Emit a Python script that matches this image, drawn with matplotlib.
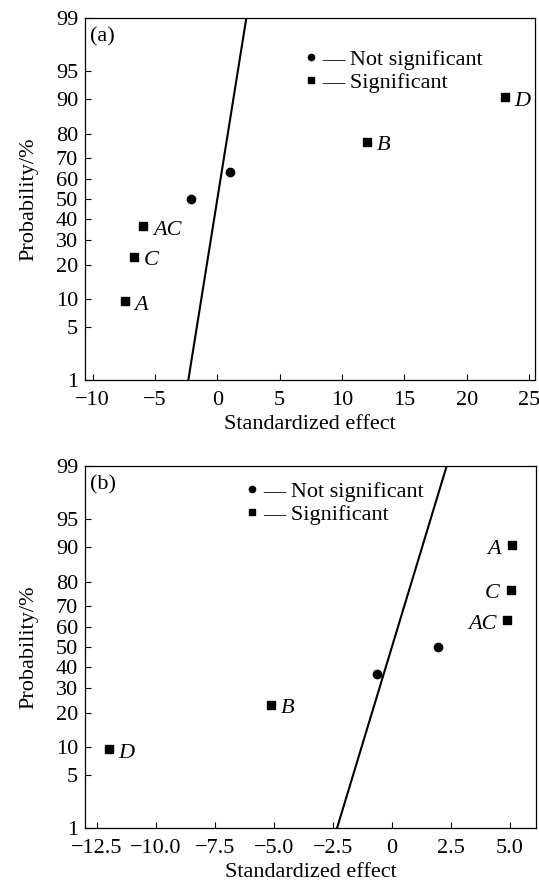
import numpy as np
import matplotlib
matplotlib.use('Agg')
import matplotlib.pyplot as plt
from matplotlib.lines import Line2D
from statistics import NormalDist

plt.rcParams['font.family'] = ['Liberation Serif', 'DejaVu Serif']

# Panel (a) effects
a_sig_x = [-7.43, -6.71, -5.96, 12.02, 23.07]
a_sig_p = [9.5, 23.0, 36.5, 77.0, 90.5]
a_sig_names = ['A', 'C', 'AC', 'B', 'D']
a_ns_x = [-2.13, 1.0]
a_ns_p = [50.0, 63.5]

# Panel (b) effects
b_sig_x = [-12.01, -5.14, 4.90, 5.05, 5.10]
b_sig_p = [9.5, 23.0, 63.5, 77.0, 90.5]
b_sig_names = ['D', 'B', 'AC', 'C', 'A']
b_ns_x = [-0.64, 1.95]
b_ns_p = [36.5, 50.0]

prob_ticks = [1, 5, 10, 20, 30, 40, 50, 60, 70, 80, 90, 95, 99]
a_xticks = [-10, -5, 0, 5, 10, 15, 20, 25]
a_xlabels = ['\u221210', '\u22125', '0', '5', '10', '15', '20', '25']
b_xticks = [-12.5, -10.0, -7.5, -5.0, -2.5, 0, 2.5, 5.0]
b_xlabels = ['\u221212.5', '\u221210.0', '\u22127.5', '\u22125.0', '\u22122.5', '0', '2.5', '5.0']

nd = NormalDist()
_ppf = np.vectorize(lambda v: nd.inv_cdf(v), otypes=[float])
_cdf = np.vectorize(lambda v: nd.cdf(v), otypes=[float])


def fwd(p):
    p = np.clip(np.asarray(p, dtype=float), 1e-6, 100 - 1e-6)
    return _ppf(p / 100.0)


def inv(z):
    return 100.0 * _cdf(np.asarray(z, dtype=float))


def setup(ax, xticks, xlim, xlabels):
    # normal probability scale on y
    ax.set_yscale('function', functions=(fwd, inv))
    ax.set_ylim(1, 99)
    ax.set_yticks(prob_ticks)
    ax.set_yticklabels([str(t) for t in prob_ticks])
    ax.set_xlim(*xlim)
    ax.set_xticks(xticks)
    ax.set_xticklabels(xlabels)
    ax.minorticks_off()
    ax.tick_params(direction='in', length=4, width=0.8, labelsize=16)
    ax.tick_params(axis='x', pad=7.5)
    ax.tick_params(axis='y', pad=5)
    for s in ax.spines.values():
        s.set_linewidth(0.9)
    ax.set_xlabel('Standardized effect', fontsize=16, labelpad=4)
    ax.set_ylabel('Probability/%', fontsize=16, labelpad=13)


def draw(ax, sig_x, sig_p, names, ns_x, ns_p, sides):
    # reference normal line
    lp = np.array([1.0, 99.0])
    ax.plot(fwd(lp), lp, color='black', lw=1.5, zorder=2)
    ax.plot(sig_x, sig_p, 's', color='black', ms=5.5, zorder=3)
    ax.plot(ns_x, ns_p, 'o', color='black', ms=6, zorder=3)
    for x, p, n, side in zip(sig_x, sig_p, names, sides):
        off = 7 if side == 'r' else -8
        ax.annotate(n, (x, p), xytext=(off, -3), textcoords='offset points',
                    ha='left' if side == 'r' else 'right', va='center',
                    fontsize=16, style='italic')


def legend(ax, anchor):
    handles = [Line2D([], [], ls='none', marker='o', color='black', ms=4.5),
               Line2D([], [], ls='none', marker='s', color='black', ms=4.5)]
    ax.legend(handles, ['\u2014 Not significant', '\u2014 Significant'],
              loc='upper left', bbox_to_anchor=anchor, frameon=False,
              fontsize=16, handlelength=0.4, handletextpad=0.3,
              labelspacing=0.09, borderpad=0, borderaxespad=0)


fig = plt.figure(figsize=(5.39, 8.84), dpi=100)
ax1 = fig.add_axes([0.158, 0.570, 0.835, 0.4095])
ax2 = fig.add_axes([0.158, 0.063, 0.836, 0.410])

setup(ax1, a_xticks, (-10.6, 25.5), a_xlabels)
draw(ax1, a_sig_x, a_sig_p, a_sig_names, a_ns_x, a_ns_p, ['r'] * 5)
legend(ax1, (0.492, 0.913))
ax1.text(0.01, 0.975, '(a)', transform=ax1.transAxes, ha='left', va='top', fontsize=16)

setup(ax2, b_xticks, (-13.0, 6.1), b_xlabels)
draw(ax2, b_sig_x, b_sig_p, b_sig_names, b_ns_x, b_ns_p, ['r', 'r', 'l', 'l', 'l'])
legend(ax2, (0.36, 0.957))
ax2.text(0.01, 0.975, '(b)', transform=ax2.transAxes, ha='left', va='top', fontsize=16)

fig.savefig('out.png', dpi=100)
